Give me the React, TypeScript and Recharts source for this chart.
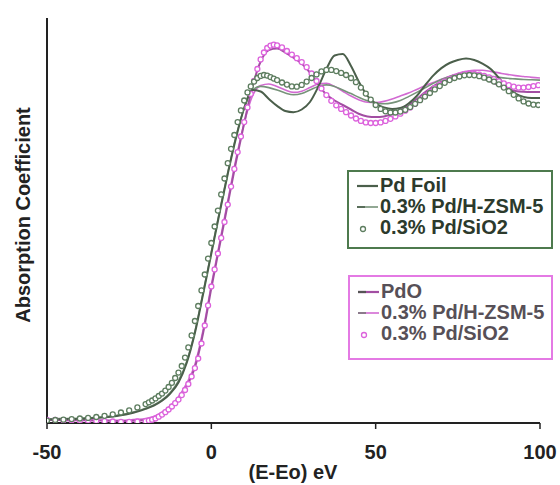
import React, { useLayoutEffect } from 'react';
import { LineChart, Line, XAxis, YAxis, Label } from 'recharts';

const lineEnergies = [
  -50, -47.5, -45, -42.5, -40, -37.5, -35, -32.5, -30, -27.5, -25, -22.5, -20, -17.5, -15, -12.5,
  -10, -7.5, -5, -2.5, 0, 2.5, 5, 7.5, 10, 12.5, 15, 17.5, 20, 22.5, 25, 27.5, 30, 32.5, 35, 37.5,
  40, 42.5, 45, 47.5, 50, 52.5, 55, 57.5, 60, 62.5, 65, 67.5, 70, 72.5, 75, 77.5, 80, 82.5, 85,
  87.5, 90, 92.5, 95, 97.5, 100,
];

const pdFoil = [
  0.012, 0.012, 0.013, 0.013, 0.014, 0.015, 0.017, 0.019, 0.022, 0.026, 0.031, 0.038, 0.047, 0.058, 0.074, 0.098,
  0.135, 0.2, 0.3, 0.43, 0.565, 0.7, 0.83, 0.95, 1.05, 1.11, 1.105, 1.08, 1.057, 1.04, 1.036, 1.045, 1.07, 1.12, 1.18, 1.225,
  1.23, 1.19, 1.135, 1.09, 1.065, 1.052, 1.047, 1.05, 1.065, 1.09, 1.125, 1.158, 1.183, 1.2, 1.21, 1.215, 1.21, 1.198, 1.18,
  1.15, 1.118, 1.098, 1.087, 1.083, 1.083,
];

const zsmGreen = [
  0.014, 0.014, 0.015, 0.015, 0.016, 0.017, 0.019, 0.021, 0.024, 0.028, 0.033, 0.04, 0.049, 0.06, 0.077, 0.102,
  0.14, 0.205, 0.305, 0.435, 0.57, 0.705, 0.835, 0.955, 1.05, 1.11, 1.122, 1.118, 1.11, 1.1, 1.094, 1.098, 1.11, 1.122, 1.127, 1.122,
  1.11, 1.098, 1.085, 1.074, 1.066, 1.064, 1.067, 1.075, 1.088, 1.102, 1.117, 1.132, 1.145, 1.155, 1.162, 1.165, 1.164, 1.16, 1.156,
  1.152, 1.149, 1.147, 1.145, 1.144, 1.143,
];

const pdo = [
  0.01, 0.01, 0.01, 0.009, 0.009, 0.009, 0.008, 0.008, 0.007, 0.007, 0.007, 0.008, 0.01, 0.016, 0.03, 0.05,
  0.08, 0.122, 0.185, 0.3, 0.45, 0.59, 0.73, 0.87, 1.0, 1.12, 1.205, 1.243, 1.248, 1.235, 1.218, 1.198, 1.168, 1.128, 1.095, 1.075,
  1.06, 1.045, 1.03, 1.022, 1.02, 1.022, 1.03, 1.043, 1.06, 1.08, 1.102, 1.122, 1.138, 1.15, 1.158, 1.162, 1.16, 1.15, 1.138,
  1.125, 1.114, 1.107, 1.104, 1.103, 1.103,
];

const zsmMagenta = [
  0.011, 0.011, 0.011, 0.01, 0.01, 0.01, 0.009, 0.009, 0.009, 0.009, 0.01, 0.012, 0.015, 0.022, 0.036, 0.057,
  0.088, 0.132, 0.195, 0.31, 0.46, 0.6, 0.74, 0.88, 1.0, 1.09, 1.125, 1.13, 1.122, 1.11, 1.102, 1.106, 1.118, 1.13, 1.132, 1.122,
  1.106, 1.09, 1.077, 1.069, 1.068, 1.072, 1.08, 1.09, 1.1, 1.112, 1.124, 1.135, 1.146, 1.156, 1.165, 1.172, 1.176, 1.176, 1.172,
  1.167, 1.162, 1.158, 1.155, 1.152, 1.15,
];

const circleEnergies = [
  -50, -47.5, -45, -42.5, -40, -37.5, -35, -32.5, -30, -27.5, -25, -22.5, -20,
  -19, -18, -17, -16, -15, -14, -13, -12, -11, -10, -9, -8, -7, -6, -5, -4, -3, -2, -1, 0,
  1, 2, 3, 4, 5, 6, 7, 8, 9, 10, 11, 12, 13, 14, 15, 16, 17, 18, 19, 20,
  21.5, 23, 24.5, 26, 27.5, 29, 30.5, 32, 33.5, 35,
  36.5, 38, 39.5, 41, 42.5, 44, 45.5, 47, 48.5, 50,
  51.5, 53, 54.5, 56, 57.5, 59, 60.5, 62, 63.5, 65,
  66.5, 68, 69.5, 71, 72.5, 74, 75.5, 77, 78.5, 80,
  81.5, 83, 84.5, 86, 87.5, 89, 90.5, 92, 93.5, 95,
  96.5, 98, 99.5,
];

const sio2Green = [
  0.008, 0.01, 0.011, 0.013, 0.015, 0.017, 0.02, 0.024, 0.029, 0.035, 0.042, 0.052, 0.063,
  0.069, 0.075, 0.082, 0.09, 0.098, 0.108, 0.12, 0.134, 0.15, 0.168, 0.19, 0.218, 0.252, 0.292, 0.34, 0.39, 0.442, 0.495, 0.548, 0.6,
  0.655, 0.708, 0.762, 0.815, 0.866, 0.914, 0.96, 1.003, 1.042, 1.075, 1.102, 1.122, 1.138, 1.15, 1.157, 1.16, 1.158, 1.153, 1.148, 1.143,
  1.135, 1.128, 1.122, 1.121, 1.127, 1.138, 1.15, 1.162, 1.172, 1.177,
  1.177, 1.173, 1.167, 1.16, 1.15, 1.136, 1.118, 1.098, 1.078, 1.06,
  1.047, 1.039, 1.035, 1.035, 1.038, 1.044, 1.053, 1.064, 1.076, 1.088,
  1.1, 1.112, 1.123, 1.134, 1.143, 1.15, 1.155, 1.159, 1.16, 1.159,
  1.156, 1.151, 1.145, 1.138, 1.129, 1.118, 1.106, 1.094, 1.082, 1.072,
  1.065, 1.061, 1.06,
];

const sio2Magenta = [
  0.01, 0.01, 0.009, 0.009, 0.008, 0.008, 0.007, 0.006, 0.005, 0.004, 0.004, 0.005, 0.006,
  0.008, 0.011, 0.015, 0.021, 0.028, 0.036, 0.045, 0.055, 0.066, 0.078, 0.093, 0.11, 0.13, 0.155, 0.183, 0.215, 0.265, 0.325, 0.392, 0.455,
  0.512, 0.565, 0.617, 0.67, 0.728, 0.788, 0.847, 0.903, 0.955, 1.003, 1.052, 1.097, 1.14, 1.18, 1.212, 1.235, 1.25, 1.258, 1.261, 1.259,
  1.252, 1.24, 1.228, 1.216, 1.203, 1.186, 1.165, 1.14, 1.115, 1.093,
  1.074, 1.059, 1.047, 1.036, 1.025, 1.015, 1.007, 1.002, 1.0, 1.0,
  1.002, 1.007, 1.014, 1.022, 1.031, 1.041, 1.052, 1.064, 1.077, 1.091,
  1.104, 1.117, 1.128, 1.138, 1.146, 1.153, 1.159, 1.163, 1.165, 1.164,
  1.161, 1.157, 1.152, 1.146, 1.139, 1.132, 1.126, 1.121, 1.118, 1.118,
  1.12, 1.123, 1.126,
];

const xTicks = [-50, 0, 50, 100];
const greenLegend = ['Pd Foil', '0.3% Pd/H-ZSM-5', '0.3% Pd/SiO2'];
const magentaLegend = ['PdO', '0.3% Pd/H-ZSM-5', '0.3% Pd/SiO2'];

const lineData = lineEnergies.map((e, i) => ({
  e,
  foil: pdFoil[i],
  zsmG: zsmGreen[i],
  pdo: pdo[i],
  zsmM: zsmMagenta[i],
}));

const circleData = circleEnergies.map((e, i) => ({ e, sg: sio2Green[i], sm: sio2Magenta[i] }));

const FONT = '"Liberation Sans", Arial, Helvetica, sans-serif';

const C = {
  foil: '#4b5f4b',
  zsmG: '#77937a',
  sg: '#5d7d5f',
  pdo: '#a24ea2',
  zsmM: '#d26ad2',
  sm: '#dc62dc',
  greenBorder: '#4d7a4d',
  magentaBorder: '#e47ae4',
};

type Sym = { kind: 'line' | 'circle'; color: string; color2?: string; width?: number };

function LegendBox(props: {
  left: number; top: number; width: number; height: number; padTop: number;
  border: string; textColor: string; labels: string[]; symbols: Sym[];
}) {
  const { left, top, width, height, padTop, border, textColor, labels, symbols } = props;
  return (
    <div
      style={{
        position: 'absolute', left, top, width, height, boxSizing: 'border-box',
        border: `2px solid ${border}`, background: '#fff', paddingTop: padTop,
        fontFamily: FONT, fontWeight: 'bold', fontSize: 20, color: textColor,
      }}
    >
      {labels.map((lab, i) => {
        const s = symbols[i];
        return (
          <div key={i} style={{ display: 'flex', alignItems: 'center', height: 21, whiteSpace: 'nowrap' }}>
            <svg width={31} height={21} style={{ flex: '0 0 31px' }}>
              {s.kind === 'line' ? (
                <>
                  <line x1={8} y1={11} x2={29} y2={11} stroke={s.color} strokeWidth={s.width || 2} />
                  {s.color2 && <line x1={8} y1={11} x2={16} y2={11} stroke={s.color2} strokeWidth={s.width || 2} />}
                </>
              ) : (
                <circle cx={14} cy={12} r={2.5} fill="#fff" stroke={s.color} strokeWidth={1.3} />
              )}
            </svg>
            <span style={{ lineHeight: '21px' }}>{lab}</span>
          </div>
        );
      })}
    </div>
  );
}

export default function App() {
  useLayoutEffect(() => {
    document.body.style.margin = '0';
  }, []);
  return (
    <div style={{ position: 'relative', width: 560, height: 485 }}>
      <div style={{ position: 'absolute', left: 8, top: 8, width: 552, height: 477 }}>
        <LineChart width={552} height={477} margin={{ top: 10, right: 20, bottom: 32, left: 0 }}>
          <XAxis
            type="number"
            dataKey="e"
            domain={[-50, 100]}
            ticks={xTicks}
            allowDataOverflow
            interval={0}
            height={30}
            tickSize={6}
            tickMargin={16}
            axisLine={{ stroke: '#222', strokeWidth: 2 }}
            tickLine={{ stroke: '#222', strokeWidth: 1.5 }}
            tick={{ fill: '#222', fontSize: 20, fontWeight: 'bold', fontFamily: FONT }}
          >
            <Label
              content={() => (
                <text x={285} y={471} textAnchor="middle" fill="#222" fontSize={20} fontWeight="bold" fontFamily={FONT}>
                  (E-Eo) eV
                </text>
              )}
            />
          </XAxis>
          <YAxis
            type="number"
            domain={[0, 1.35]}
            allowDataOverflow
            width={39}
            tick={false}
            tickLine={false}
            axisLine={{ stroke: '#222', strokeWidth: 2 }}
          >
            <Label
              content={() => (
                <text
                  x={15}
                  y={207}
                  transform="rotate(-90 15 207)"
                  textAnchor="middle"
                  dominantBaseline="central"
                  fill="#222"
                  fontSize={20}
                  fontWeight="bold"
                  fontFamily={FONT}
                >
                  Absorption Coefficient
                </text>
              )}
            />
          </YAxis>
          <Line data={lineData} dataKey="zsmM" type="monotone" stroke={C.zsmM} strokeWidth={1.6} dot={false} isAnimationActive={false} />
          <Line data={lineData} dataKey="pdo" type="monotone" stroke={C.pdo} strokeWidth={2} dot={false} isAnimationActive={false} />
          <Line data={lineData} dataKey="zsmG" type="monotone" stroke={C.zsmG} strokeWidth={1.6} dot={false} isAnimationActive={false} />
          <Line data={lineData} dataKey="foil" type="monotone" stroke={C.foil} strokeWidth={2} dot={false} isAnimationActive={false} />
          <Line
            data={circleData}
            dataKey="sm"
            stroke="none"
            dot={{ r: 2.5, stroke: C.sm, strokeWidth: 1.3, fill: '#fff' }}
            isAnimationActive={false}
          />
          <Line
            data={circleData}
            dataKey="sg"
            stroke="none"
            dot={{ r: 2.5, stroke: C.sg, strokeWidth: 1.3, fill: '#fff' }}
            isAnimationActive={false}
          />
        </LineChart>
      </div>
      <LegendBox
        left={347}
        top={170}
        width={206}
        height={79}
        padTop={3}
        border={C.greenBorder}
        textColor="#2c3a2c"
        labels={greenLegend}
        symbols={[
          { kind: 'line', color: C.foil, width: 2.2 },
          { kind: 'line', color: C.zsmG, color2: C.foil, width: 1.6 },
          { kind: 'circle', color: C.sg },
        ]}
      />
      <LegendBox
        left={348}
        top={275}
        width={205}
        height={85}
        padTop={4}
        border={C.magentaBorder}
        textColor="#575057"
        labels={magentaLegend}
        symbols={[
          { kind: 'line', color: C.pdo, color2: '#555', width: 2.2 },
          { kind: 'line', color: C.zsmM, color2: '#777', width: 1.6 },
          { kind: 'circle', color: C.sm },
        ]}
      />
    </div>
  );
}
